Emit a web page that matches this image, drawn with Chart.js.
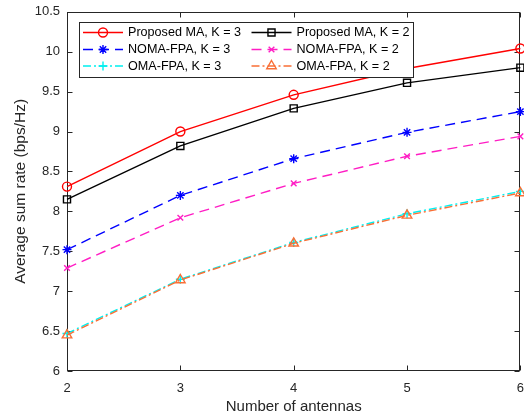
<!DOCTYPE html>
<html><head><meta charset="utf-8">
<script src="https://cdn.jsdelivr.net/npm/chart.js@4/dist/chart.umd.min.js"></script>
<style>html,body{margin:0;padding:0;background:#fff;overflow:hidden;width:524px;height:416px}canvas{display:block;margin-top:-3px}</style>
</head><body>
<canvas id="c" width="534" height="419"></canvas>
<script>
const antennas = [2, 3, 4, 5, 6];
const xTicks = [2, 3, 4, 5, 6];
const yTicks = [6, 6.5, 7, 7.5, 8, 8.5, 9, 9.5, 10, 10.5];
const maK3   = [8.31, 9.00, 9.46, 9.79, 10.04];
const maK2   = [8.15, 8.82, 9.29, 9.61, 9.80];
const nomaK3 = [7.52, 8.20, 8.66, 8.99, 9.25];
const nomaK2 = [7.29, 7.92, 8.35, 8.69, 8.94];
const omaK3  = [6.47, 7.15, 7.61, 7.97, 8.25];
const omaK2  = [6.45, 7.14, 7.60, 7.95, 8.23];
const labels = ['Proposed MA, K = 3','Proposed MA, K = 2','NOMA-FPA, K = 3','NOMA-FPA, K = 2','OMA-FPA, K = 3','OMA-FPA, K = 2'];

const FONT = '"Liberation Sans", Arial, Helvetica, sans-serif';
Chart.defaults.font.family = FONT;
Chart.defaults.color = '#262626';

const pts = arr => antennas.map((a, i) => ({x: a, y: arr[i]}));
const styles = [
  {c:'#ff0000', dash:[], ps:'circle', r:4.5},
  {c:'#000000', dash:[], ps:'rect', r:5},
  {c:'#0000ff', dash:[10,6], ps:'star', r:4.5},
  {c:'#ff1dc4', dash:[10,6], ps:'crossRot', r:4},
  {c:'#00f0f0', dash:[8,3,2,3], ps:'cross', r:4.5},
  {c:'#f96f36', dash:[8,3,2,3], ps:'triangle', r:5.5}
];
const series = [maK3, maK2, nomaK3, nomaK2, omaK3, omaK2];
const datasets = series.map((s, i) => ({
  label: labels[i], data: pts(s), borderColor: styles[i].c, backgroundColor: 'rgba(0,0,0,0)',
  borderDash: styles[i].dash, borderWidth: 1.4, pointStyle: styles[i].ps, pointRadius: styles[i].r,
  pointBorderColor: styles[i].c, pointBackgroundColor: 'rgba(0,0,0,0)', pointBorderWidth: 1.4,
  tension: 0, clip: false, order: 5 - i
}));

const frame = {
  id: 'frame',
  beforeDatasetsDraw(chart) {
    const {ctx, chartArea: a, scales: {x, y}} = chart;
    ctx.save();
    ctx.strokeStyle = '#262626'; ctx.lineWidth = 1;
    const L = Math.round(a.left) + 0.5, R = Math.round(a.right) - 0.5, T = Math.round(a.top) + 0.5, B = Math.round(a.bottom) - 0.5;
    ctx.strokeRect(L, T, R - L, B - T);
    ctx.beginPath();
    xTicks.forEach(v => { const px = Math.round(x.getPixelForValue(v)) + 0.5; ctx.moveTo(px, B); ctx.lineTo(px, B - 5); ctx.moveTo(px, T); ctx.lineTo(px, T + 5); });
    yTicks.forEach(v => { const py = Math.round(y.getPixelForValue(v)) + 0.5; ctx.moveTo(L, py); ctx.lineTo(L + 5, py); ctx.moveTo(R, py); ctx.lineTo(R - 5, py); });
    ctx.stroke();
    ctx.restore();
  }
};

const legendBox = {
  id: 'legendBox',
  afterDatasetsDraw(chart) {
    const ctx = chart.ctx;
    const a = chart.chartArea;
    const bx = Math.round(a.left) + 12.5, by = Math.round(a.top) + 10.5, bw = 334, bh = 55;
    ctx.save();
    ctx.fillStyle = '#fff'; ctx.fillRect(bx, by, bw, bh);
    ctx.strokeStyle = '#262626'; ctx.lineWidth = 1; ctx.strokeRect(bx, by, bw, bh);
    const colX = [bx + 3.5, bx + 172];
    const rowY = [by + 10, by + 27, by + 43.5];
    ctx.font = '12.6px ' + FONT; ctx.textBaseline = 'middle';
    chart.data.datasets.forEach((ds, i) => {
      const cx = colX[i % 2], cy = rowY[Math.floor(i / 2)];
      ctx.save();
      ctx.strokeStyle = ds.borderColor; ctx.lineWidth = ds.borderWidth; ctx.setLineDash(ds.borderDash);
      ctx.beginPath(); ctx.moveTo(cx, cy); ctx.lineTo(cx + 40, cy); ctx.stroke();
      ctx.setLineDash([]);
      ctx.strokeStyle = ds.pointBorderColor; ctx.fillStyle = 'rgba(0,0,0,0)'; ctx.lineWidth = ds.pointBorderWidth;
      Chart.helpers.drawPoint(ctx, {pointStyle: ds.pointStyle, radius: ds.pointRadius, rotation: 0, borderWidth: ds.pointBorderWidth}, cx + 20, cy);
      ctx.restore();
      ctx.fillStyle = '#000'; ctx.fillText(ds.label, cx + 45, cy + 0.5);
    });
    ctx.restore();
  }
};

new Chart(document.getElementById('c'), {
  type: 'line',
  data: { datasets },
  options: {
    responsive: false, animation: false,
    layout: { autoPadding: false, padding: { top: 11, left: 0, right: 0, bottom: 0 } },
    plugins: { legend: { display: false }, tooltip: { enabled: false } },
    scales: {
      x: {
        type: 'linear', min: 2, max: 6,
        afterBuildTicks: s => { s.ticks = xTicks.map(v => ({value: v})); },
        afterFit: s => { s.height = 45; },
        grid: { display: false, drawTicks: false }, border: { display: false },
        ticks: { font: { size: 13 }, padding: 10, maxRotation: 0, color: '#262626', callback: v => String(v) },
        title: { display: true, text: 'Number of antennas', font: { size: 15 }, padding: { top: 0, bottom: 0 }, color: '#262626' }
      },
      y: {
        type: 'linear', min: 6, max: 10.5,
        afterBuildTicks: s => { s.ticks = yTicks.map(v => ({value: v})); },
        afterFit: s => { s.width = 67; },
        grid: { display: false, drawTicks: false }, border: { display: false },
        ticks: { font: { size: 13 }, padding: 7, color: '#262626', callback: v => String(v) },
        title: { display: true, text: 'Average sum rate (bps/Hz)', font: { size: 15.5 }, padding: { top: 11, bottom: 0 }, color: '#262626' }
      }
    }
  },
  plugins: [frame, legendBox]
});
</script>
</body></html>
